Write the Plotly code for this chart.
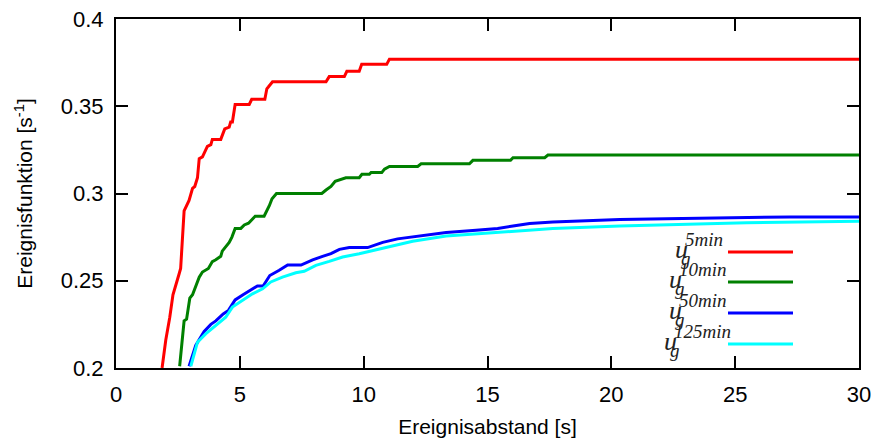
import plotly.graph_objects as go

# ---------------- data ----------------
x_5min = [1.86, 2.01, 2.17, 2.30, 2.55, 2.61, 2.75, 2.95, 3.09, 3.18, 3.29, 3.36, 3.49, 3.69, 3.83, 3.89,
          4.23, 4.39, 4.57, 4.63, 4.70, 4.81, 5.38, 5.48, 6.01, 6.09, 6.15, 6.32, 8.48, 8.61, 9.22, 9.32,
          9.82, 9.92, 10.93, 11.04, 30.0]
y_5min = [0.200, 0.216, 0.229, 0.242, 0.254, 0.257, 0.290, 0.296, 0.303, 0.304, 0.309, 0.320, 0.321, 0.327, 0.328, 0.331,
          0.331, 0.337, 0.338, 0.341, 0.341, 0.351, 0.351, 0.354, 0.354, 0.360, 0.361, 0.364, 0.364, 0.367, 0.367, 0.370,
          0.370, 0.374, 0.374, 0.377, 0.377]

x_10min = [2.57, 2.75, 2.85, 2.98, 3.09, 3.36, 3.49, 3.73, 3.89, 4.03, 4.23, 4.29, 4.57, 4.68, 4.81, 5.04, 5.18,
           5.35, 5.62, 5.98, 6.19, 6.30, 6.48, 8.31, 8.48, 8.68, 8.85, 9.28, 9.82, 9.93, 10.23, 10.30, 10.73,
           10.84, 11.04, 12.18, 12.32, 14.27, 14.41, 15.93, 16.03, 17.31, 17.44, 30.0]
y_10min = [0.201, 0.227, 0.228, 0.240, 0.242, 0.252, 0.255, 0.257, 0.261, 0.262, 0.264, 0.267, 0.272, 0.275, 0.280, 0.280, 0.282,
           0.283, 0.287, 0.287, 0.293, 0.297, 0.300, 0.300, 0.302, 0.304, 0.307, 0.309, 0.309, 0.311, 0.311, 0.312, 0.312,
           0.314, 0.3155, 0.3155, 0.317, 0.317, 0.319, 0.319, 0.3205, 0.3205, 0.322, 0.322]

x_50min = [2.95, 3.22, 3.56, 3.83, 4.03, 4.33, 4.54, 4.81, 5.13, 5.38, 5.71, 5.94, 6.21, 6.59, 6.93, 7.47, 7.94,
           8.34, 8.68, 9.02, 9.42, 10.16, 10.77, 11.37, 12.25, 13.33, 14.54, 15.41, 16.03, 16.70, 17.64, 20.34,
           22.23, 25.19, 27.21, 30.0]
y_50min = [0.201, 0.213, 0.221, 0.225, 0.227, 0.231, 0.233, 0.239, 0.242, 0.244, 0.247, 0.247, 0.253, 0.256, 0.259, 0.259, 0.262,
           0.264, 0.2655, 0.268, 0.269, 0.269, 0.272, 0.274, 0.2757, 0.2776, 0.279, 0.280, 0.2814, 0.2828, 0.2837, 0.2851,
           0.2856, 0.2862, 0.2866, 0.2866]

x_125min = [3.02, 3.29, 3.62, 4.03, 4.43, 4.70, 5.11, 5.51, 5.92, 6.25, 6.72, 7.26, 7.60, 8.07, 8.61, 9.15, 9.82,
            10.77, 11.98, 13.33, 14.68, 16.03, 17.64, 20.34, 22.77, 25.46, 30.0]
y_125min = [0.201, 0.2148, 0.2195, 0.2243, 0.2291, 0.2349, 0.2387, 0.2425, 0.2454, 0.2493, 0.2521, 0.2546, 0.2554, 0.2588,
            0.2611, 0.2636, 0.2655, 0.2688, 0.2726, 0.2757, 0.2770, 0.2786, 0.2799, 0.2814, 0.2824, 0.2832, 0.2841]

series_labels = ["5min", "10min", "50min", "125min"]
series_colors = ["#ff0000", "#008000", "#0000ff", "#00ffff"]
x_ticks = [0, 5, 10, 15, 20, 25, 30]
y_ticks = [0.2, 0.25, 0.3, 0.35, 0.4]

xs = [x_5min, x_10min, x_50min, x_125min]
ys = [y_5min, y_10min, y_50min, y_125min]

# ---------------- layout geometry (page pixels) ----------------
W, H = 873, 442
L, R, T, B = 116, 859, 19, 368


def px(xp):
    return (xp - L) / (R - L)


def py(yp):
    return (B - yp) / (B - T)


fig = go.Figure()
for xv, yv, lab, col in zip(xs, ys, series_labels, series_colors):
    fig.add_trace(go.Scatter(x=xv, y=yv, mode="lines", name=lab,
                             line=dict(color=col, width=3), showlegend=False))

# custom gnuplot-style key: text on the left, line sample on the right
key_rows = [252, 282, 313, 344]
sup_left = [684, 678, 678, 673]
annotations = []
shapes = []
serif = "Liberation Serif"
for lab, col, yr, sl in zip(series_labels, series_colors, key_rows, sup_left):
    shapes.append(dict(type="line", xref="paper", yref="paper",
                       x0=px(728), x1=px(793), y0=py(yr), y1=py(yr),
                       line=dict(color=col, width=3)))
    annotations.append(dict(text="<i>%s</i>" % lab, xref="paper", yref="paper",
                            x=px(sl), y=py(yr - 13), xanchor="left", yanchor="middle",
                            showarrow=False, borderpad=0,
                            font=dict(family=serif, size=19, color="#222")))
    annotations.append(dict(text="<i>u</i>", xref="paper", yref="paper",
                            x=px(sl + 5), y=py(yr - 3), xanchor="right", yanchor="middle",
                            showarrow=False, borderpad=0,
                            font=dict(family=serif, size=26, color="#222")))
    annotations.append(dict(text="<i>g</i>", xref="paper", yref="paper",
                            x=px(sl - 4), y=py(yr + 6), xanchor="left", yanchor="middle",
                            showarrow=False, borderpad=0,
                            font=dict(family=serif, size=19, color="#222")))

axis_common = dict(showline=True, linecolor="black", linewidth=2, mirror="ticks",
                   ticks="inside", ticklen=12, tickwidth=1.5, tickcolor="black",
                   showgrid=False, zeroline=False, automargin=False,
                   ticklabeloverflow="allow",
                   tickfont=dict(family="Liberation Sans", size=22, color="black"))

fig.update_layout(
    width=W, height=H,
    margin=dict(l=L, r=W - R, t=T, b=H - B, autoexpand=False),
    paper_bgcolor="white", plot_bgcolor="white",
    font=dict(family="Liberation Sans", size=21, color="black"),
    xaxis=dict(range=[0, 30], tickvals=x_ticks,
               title=dict(text="Ereignisabstand [s]", standoff=13,
                          font=dict(family="Liberation Sans", size=21)),
               ticklabelstandoff=6, **axis_common),
    yaxis=dict(range=[0.2, 0.4], tickvals=y_ticks,
               title=dict(text="Ereignisfunktion [s<sup>-1</sup>]", standoff=22,
                          font=dict(family="Liberation Sans", size=21)),
               ticklabelstandoff=6, **axis_common),
    annotations=annotations,
    shapes=shapes,
)

# remove the default page margin so the figure fills the 873x442 window exactly
fig.write_html("out.html", config={"displayModeBar": False},
               post_script="document.body.style.margin='0';document.body.style.overflow='hidden';")
